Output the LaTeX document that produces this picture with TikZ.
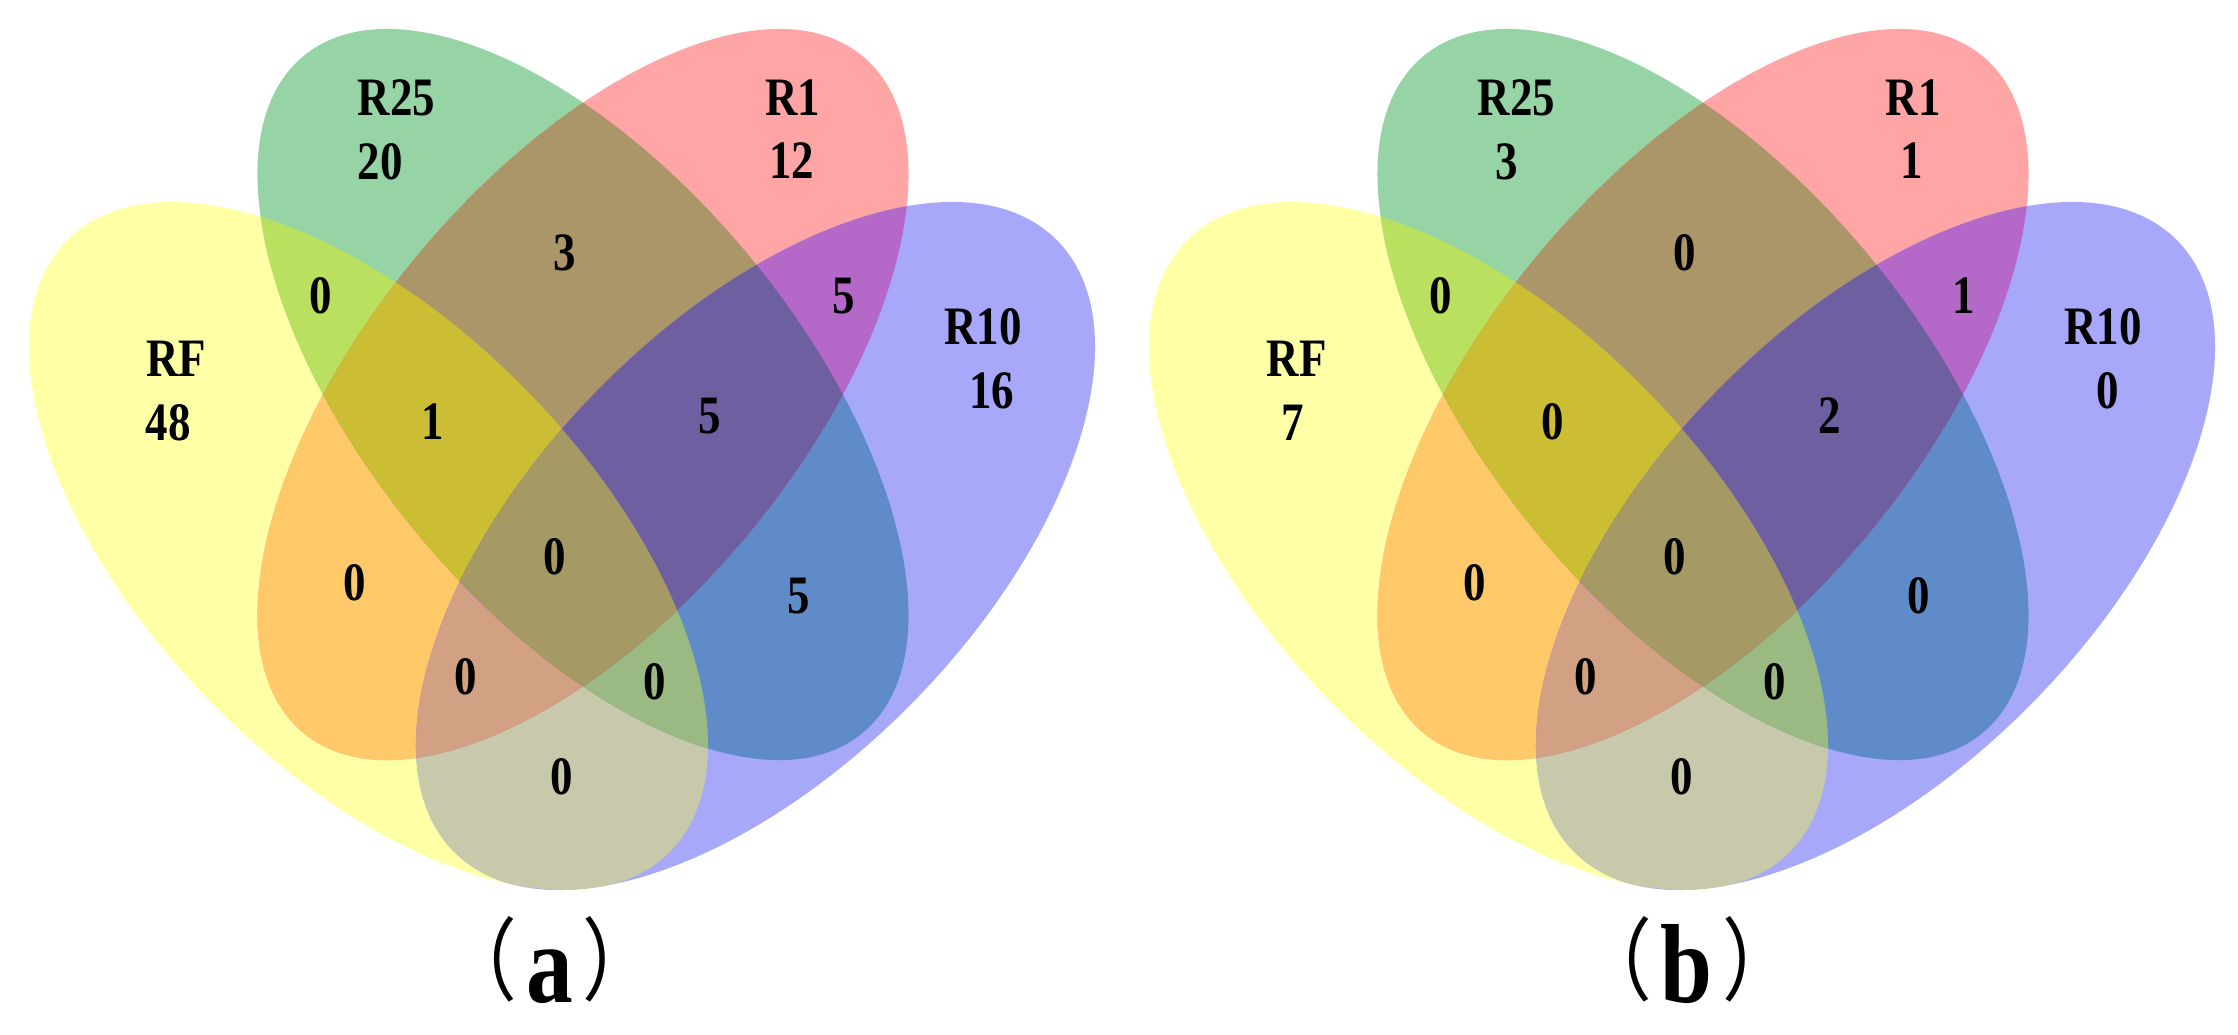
\documentclass[tikz,border=0pt]{standalone}
\usepackage{fontspec}
\setmainfont{Liberation Serif}
\newfontfamily\cjkfont{Noto Sans CJK SC}
\definecolor{cY}{RGB}{255,255,165}
\definecolor{cG}{RGB}{150,212,165}
\definecolor{cR}{RGB}{255,165,165}
\definecolor{cB}{RGB}{168,168,250}
\definecolor{cYG}{RGB}{185,225,95}
\definecolor{cYR}{RGB}{255,200,105}
\definecolor{cYB}{RGB}{200,200,170}
\definecolor{cGR}{RGB}{170,150,105}
\definecolor{cGB}{RGB}{95,140,200}
\definecolor{cRB}{RGB}{180,105,200}
\definecolor{cYGR}{RGB}{203,190,53}
\definecolor{cYGB}{RGB}{155,185,130}
\definecolor{cYRB}{RGB}{210,160,130}
\definecolor{cGRB}{RGB}{110,95,160}
\definecolor{cYGRB}{RGB}{165,154,100}
\newcommand\ellY[2]{#1[#2,rotate around={-45.65:(368.5,488)}] (368.5,488) ellipse [x radius=429.4,y radius=221.8];}
\newcommand\ellB[2]{#1[#2,rotate around={45.65:(755.5,488)}] (755.5,488) ellipse [x radius=429.4,y radius=221.8];}
\newcommand\ellG[2]{#1[#2,rotate around={-50.46:(583,639.5)}] (583,639.5) ellipse [x radius=439,y radius=216.4];}
\newcommand\ellR[2]{#1[#2,rotate around={50.46:(583,639.5)}] (583,639.5) ellipse [x radius=439,y radius=216.4];}
\newcommand\vennregions{%
  \ellY{\fill}{cY}\ellG{\fill}{cG}\ellR{\fill}{cR}\ellB{\fill}{cB}%
  \begin{scope}\ellY{\clip}{}\ellG{\fill}{cYG}\end{scope}%
  \begin{scope}\ellY{\clip}{}\ellR{\fill}{cYR}\end{scope}%
  \begin{scope}\ellY{\clip}{}\ellB{\fill}{cYB}\end{scope}%
  \begin{scope}\ellG{\clip}{}\ellR{\fill}{cGR}\end{scope}%
  \begin{scope}\ellG{\clip}{}\ellB{\fill}{cGB}\end{scope}%
  \begin{scope}\ellR{\clip}{}\ellB{\fill}{cRB}\end{scope}%
  \begin{scope}\ellY{\clip}{}\ellG{\clip}{}\ellR{\fill}{cYGR}\end{scope}%
  \begin{scope}\ellY{\clip}{}\ellG{\clip}{}\ellB{\fill}{cYGB}\end{scope}%
  \begin{scope}\ellY{\clip}{}\ellR{\clip}{}\ellB{\fill}{cYRB}\end{scope}%
  \begin{scope}\ellG{\clip}{}\ellR{\clip}{}\ellB{\fill}{cGRB}\end{scope}%
  \begin{scope}\ellY{\clip}{}\ellG{\clip}{}\ellR{\clip}{}\ellB{\fill}{cYGRB}\end{scope}%
}
\newcommand\sqz[1]{\scalebox{0.83}[1]{#1}}
\newcommand\capparen[1]{\raisebox{0.9mm}{\cjkfont\fontsize{25.6}{26}\selectfont #1}}
\newcommand\captext[1]{\sqz{\capparen{（}\hspace{1.1mm}{\bfseries\fontsize{32}{32}\selectfont #1}\hspace{1.15mm}\capparen{）}}}
\tikzset{lab/.style={inner sep=0pt,font=\bfseries\fontsize{15.4}{16}\selectfont},
  capt/.style={inner sep=0pt,anchor=base}}
\begin{document}
\begin{tikzpicture}[x=0.1mm,y=0.1mm]
\useasboundingbox (0,0) rectangle (2238,1034);
\fill[white] (0,0) rectangle (2238,1034);
% ---------- panel (a)
\begin{scope}
  \vennregions
  \node[lab] (aR25) at (396.5,936.5) {\sqz{R25}};
  \node[lab,anchor=west] (aN25) at (357,872.5) {\sqz{20}};
  \node[lab] (aRF) at (176.5,675.5) {\sqz{RF}};
  \node[lab,anchor=west] (aNF) at (145,611.5) {\sqz{48}};
  \node[lab] (aR1) at (793,936.5) {\sqz{R1}};
  \node[lab] (aN1) at (791.5,873.5) {\sqz{12}};
  \node[lab] (aR10) at (983,707.5) {\sqz{R10}};
  \node[lab] (aN10) at (991.5,643.5) {\sqz{16}};
  \node[lab] (aYG) at (321,738) {\sqz{0}};
  \node[lab] (aGR) at (565,781) {\sqz{3}};
  \node[lab] (aRB) at (844,738) {\sqz{5}};
  \node[lab] (aYGR) at (433,612) {\sqz{1}};
  \node[lab] (aGRB) at (710,618) {\sqz{5}};
  \node[lab] (aYR) at (355,451) {\sqz{0}};
  \node[lab] (aYGRB) at (555,477) {\sqz{0}};
  \node[lab] (aGB) at (799,438) {\sqz{5}};
  \node[lab] (aYRB) at (466,357) {\sqz{0}};
  \node[lab] (aYGB) at (655,352) {\sqz{0}};
  \node[lab] (aYB) at (562,257) {\sqz{0}};
\end{scope}
% ---------- panel (b)
\begin{scope}[shift={(1120,0)}]
  \vennregions
  \node[lab] (bR25) at (396.5,936.5) {\sqz{R25}};
  \node[lab] (bN25) at (386.5,872.5) {\sqz{3}};
  \node[lab] (bRF) at (176.5,675.5) {\sqz{RF}};
  \node[lab] (bNF) at (172.5,611.5) {\sqz{7}};
  \node[lab] (bR1) at (793,936.5) {\sqz{R1}};
  \node[lab] (bN1) at (791.5,873.5) {\sqz{1}};
  \node[lab] (bR10) at (983,707.5) {\sqz{R10}};
  \node[lab] (bN10) at (988,643.5) {\sqz{0}};
  \node[lab] (bYG) at (321,738) {\sqz{0}};
  \node[lab] (bGR) at (565,781) {\sqz{0}};
  \node[lab] (bRB) at (844,738) {\sqz{1}};
  \node[lab] (bYGR) at (433,612) {\sqz{0}};
  \node[lab] (bGRB) at (710,618) {\sqz{2}};
  \node[lab] (bYR) at (355,451) {\sqz{0}};
  \node[lab] (bYGRB) at (555,477) {\sqz{0}};
  \node[lab] (bGB) at (799,438) {\sqz{0}};
  \node[lab] (bYRB) at (466,357) {\sqz{0}};
  \node[lab] (bYGB) at (655,352) {\sqz{0}};
  \node[lab] (bYB) at (562,257) {\sqz{0}};
\end{scope}
% ---------- captions
\node[capt] (capa) at (550,32) {\captext{a}};
\node[capt] (capb) at (1687,32) {\captext{b}};
\end{tikzpicture}
\end{document}
